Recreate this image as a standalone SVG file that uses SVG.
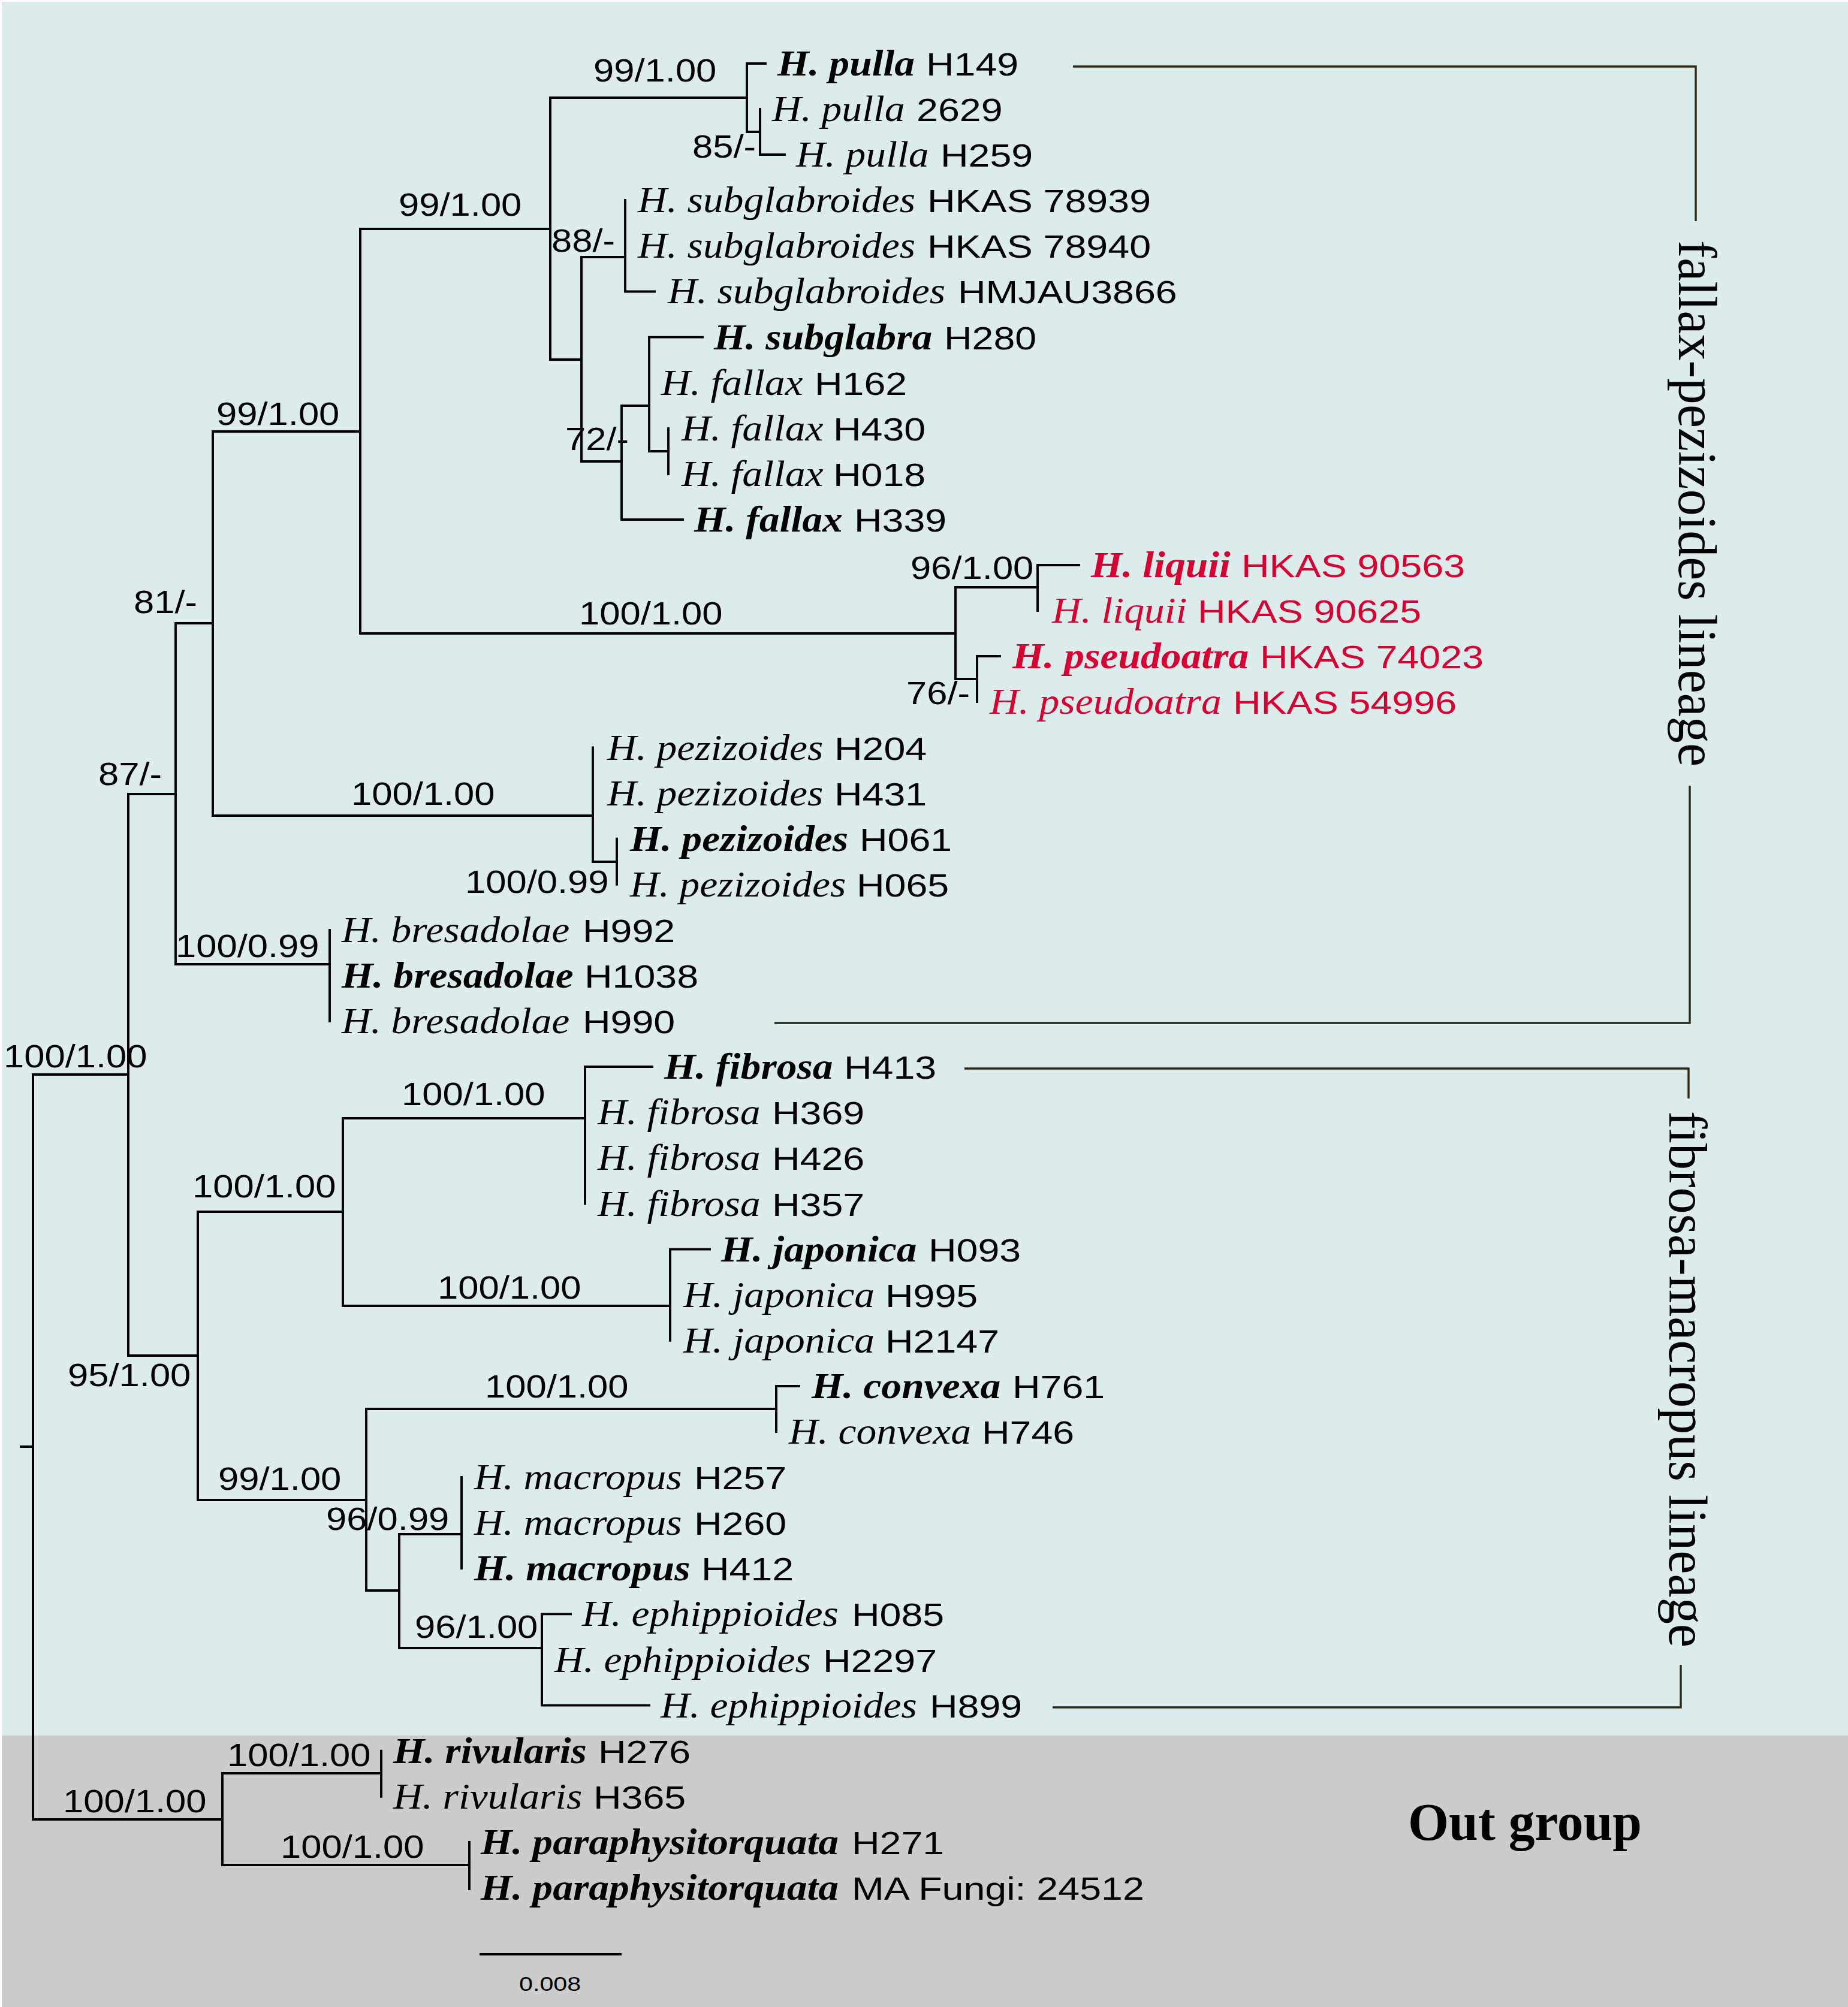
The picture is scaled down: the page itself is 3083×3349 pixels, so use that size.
<svg xmlns="http://www.w3.org/2000/svg" width="3083" height="3349" viewBox="0 0 3083 3349">
<style>
.tr{fill:none;stroke:#000;stroke-width:3.9;stroke-linecap:square}
.br{fill:none;stroke:#2e2614;stroke-width:3.4}
.sp{font-family:"Liberation Serif","Times New Roman",serif;font-style:italic;font-size:62px;fill:#000}
.b{font-weight:bold}
.cd{font-family:"Liberation Sans",Arial,sans-serif;font-size:54px;fill:#000}
.lb{font-family:"Liberation Sans",Arial,sans-serif;font-size:54px;fill:#000}
.sc{font-family:"Liberation Sans",Arial,sans-serif;font-size:33px;fill:#000}
.red{fill:#d80032}
.lin{font-family:"Liberation Serif","Times New Roman",serif;font-size:90px;fill:#000}
</style>
<rect x="0" y="0" width="3083" height="3349" fill="#ffffff"/>
<rect x="3" y="3" width="3080" height="2893" fill="#dbecea"/>
<rect x="3" y="2896" width="3080" height="453" fill="#cccccc"/>

<g id="connectors">
<path class="tr" d="M35 2414H55M55 1793V3036M55 1793H214M55 3036H371"/>
<path class="tr" d="M214 1325V2262M214 1325H293M214 2262H330"/>
<path class="tr" d="M293 1040V1609M293 1040H355M293 1609H550"/>
<path class="tr" d="M355 720V1361M355 720H601M355 1361H989"/>
<path class="tr" d="M601 382V1057M601 382H918M601 1057H1594"/>
<path class="tr" d="M918 163V600M918 163H1246M918 600H970"/>
<path class="tr" d="M1246 106V220M1246 106H1277M1246 220H1268"/>
<path class="tr" d="M1268 182V258M1268 258H1309"/>
<path class="tr" d="M970 429V770M970 429H1043M970 770H1037"/>
<path class="tr" d="M1043 334V486.5M1043 486.5H1092"/>
<path class="tr" d="M1037 677V867M1037 677H1083M1037 867H1139"/>
<path class="tr" d="M1083 562.6V753M1083 562.6H1172M1083 753H1115"/>
<path class="tr" d="M1115 714.8V790.9"/>
<path class="tr" d="M1594 980V1133M1594 980H1731M1594 1133H1630"/>
<path class="tr" d="M1731 943V1019M1731 943H1800"/>
<path class="tr" d="M1630 1095V1171M1630 1095H1668"/>
<path class="tr" d="M989 1247.5V1438M989 1438H1029"/>
<path class="tr" d="M1029 1399.7V1475.8"/>
<path class="tr" d="M550 1552V1704"/>
<path class="tr" d="M330 2022V2503M330 2022H572M330 2503H611"/>
<path class="tr" d="M572 1866V2179M572 1866H976M572 2179H1118"/>
<path class="tr" d="M976 1780V2008.5M976 1780H1088"/>
<path class="tr" d="M1118 2084.6V2236.8M1118 2084.6H1184"/>
<path class="tr" d="M611 2351V2654M611 2351H1295M611 2654H666"/>
<path class="tr" d="M1295 2313V2389M1295 2313H1333"/>
<path class="tr" d="M666 2560V2750M666 2560H770M666 2750H904"/>
<path class="tr" d="M770 2465V2617"/>
<path class="tr" d="M904 2693.4V2845.6M904 2693.4H952M904 2845.6H1083"/>
<path class="tr" d="M371 2959V3112M371 2959H636M371 3112H783"/>
<path class="tr" d="M636 2921.7V2997.8"/>
<path class="tr" d="M783 3073.9V3152"/>
<path class="br" d="M1790 111H2829V369M2819 1311V1707H1292"/>
<path class="br" d="M1609 1783H2817V1833M2804 2778V2849H1756"/>
<path class="tr" d="M802 3261H1035"/>
</g>

<g id="support-labels">
<text class="lb" transform="translate(990 136) scale(1.14 1)">99/1.00</text>
<text class="lb" transform="translate(1155 263) scale(1.14 1)">85/-</text>
<text class="lb" transform="translate(665 360) scale(1.14 1)">99/1.00</text>
<text class="lb" transform="translate(920 420) scale(1.14 1)">88/-</text>
<text class="lb" transform="translate(361 709) scale(1.14 1)">99/1.00</text>
<text class="lb" transform="translate(943 751) scale(1.14 1)">72/-</text>
<text class="lb" transform="translate(1519 966) scale(1.14 1)">96/1.00</text>
<text class="lb" transform="translate(223 1023) scale(1.14 1)">81/-</text>
<text class="lb" transform="translate(966 1042) scale(1.14 1)">100/1.00</text>
<text class="lb" transform="translate(1512 1175) scale(1.14 1)">76/-</text>
<text class="lb" transform="translate(164 1310) scale(1.14 1)">87/-</text>
<text class="lb" transform="translate(586 1343) scale(1.14 1)">100/1.00</text>
<text class="lb" transform="translate(776 1490) scale(1.14 1)">100/0.99</text>
<text class="lb" transform="translate(293 1597) scale(1.14 1)">100/0.99</text>
<text class="lb" transform="translate(6 1781) scale(1.14 1)">100/1.00</text>
<text class="lb" transform="translate(670 1844) scale(1.14 1)">100/1.00</text>
<text class="lb" transform="translate(321 1998) scale(1.14 1)">100/1.00</text>
<text class="lb" transform="translate(730 2167) scale(1.14 1)">100/1.00</text>
<text class="lb" transform="translate(113 2313) scale(1.14 1)">95/1.00</text>
<text class="lb" transform="translate(809 2332) scale(1.14 1)">100/1.00</text>
<text class="lb" transform="translate(364 2486) scale(1.14 1)">99/1.00</text>
<text class="lb" transform="translate(544 2553) scale(1.14 1)">96/0.99</text>
<text class="lb" transform="translate(692 2733) scale(1.14 1)">96/1.00</text>
<text class="lb" transform="translate(379 2947) scale(1.14 1)">100/1.00</text>
<text class="lb" transform="translate(105 3024) scale(1.14 1)">100/1.00</text>
<text class="lb" transform="translate(468 3100) scale(1.14 1)">100/1.00</text>
</g>

<g id="leaf-01"><text class="sp b" transform="translate(1297 126) scale(1.09 1)">H. pulla</text><text class="cd" transform="translate(1545 126) scale(1.195 1)">H149</text></g>
<g id="leaf-02"><text class="sp" transform="translate(1288 202) scale(1.09 1)">H. pulla</text><text class="cd" transform="translate(1529 202) scale(1.195 1)">2629</text></g>
<g id="leaf-03"><text class="sp" transform="translate(1328 278) scale(1.09 1)">H. pulla</text><text class="cd" transform="translate(1569 278) scale(1.195 1)">H259</text></g>
<g id="leaf-04"><text class="sp" transform="translate(1064 354) scale(1.09 1)">H. subglabroides</text><text class="cd" transform="translate(1547 354) scale(1.195 1)">HKAS 78939</text></g>
<g id="leaf-05"><text class="sp" transform="translate(1064 430) scale(1.09 1)">H. subglabroides</text><text class="cd" transform="translate(1547 430) scale(1.195 1)">HKAS 78940</text></g>
<g id="leaf-06"><text class="sp" transform="translate(1114 506) scale(1.09 1)">H. subglabroides</text><text class="cd" transform="translate(1598 506) scale(1.195 1)">HMJAU3866</text></g>
<g id="leaf-07"><text class="sp b" transform="translate(1191 583) scale(1.09 1)">H. subglabra</text><text class="cd" transform="translate(1575 583) scale(1.195 1)">H280</text></g>
<g id="leaf-08"><text class="sp" transform="translate(1103 659) scale(1.09 1)">H. fallax</text><text class="cd" transform="translate(1359 659) scale(1.195 1)">H162</text></g>
<g id="leaf-09"><text class="sp" transform="translate(1137 735) scale(1.09 1)">H. fallax</text><text class="cd" transform="translate(1390 735) scale(1.195 1)">H430</text></g>
<g id="leaf-10"><text class="sp" transform="translate(1137 811) scale(1.09 1)">H. fallax</text><text class="cd" transform="translate(1390 811) scale(1.195 1)">H018</text></g>
<g id="leaf-11"><text class="sp b" transform="translate(1158 887) scale(1.09 1)">H. fallax</text><text class="cd" transform="translate(1425 887) scale(1.195 1)">H339</text></g>
<g id="leaf-12"><text class="sp b red" transform="translate(1820 963) scale(1.09 1)">H. liquii</text><text class="cd red" transform="translate(2071 963) scale(1.195 1)">HKAS 90563</text></g>
<g id="leaf-13"><text class="sp red" transform="translate(1755 1039) scale(1.09 1)">H. liquii</text><text class="cd red" transform="translate(1998 1039) scale(1.195 1)">HKAS 90625</text></g>
<g id="leaf-14"><text class="sp b red" transform="translate(1689 1115) scale(1.09 1)">H. pseudoatra</text><text class="cd red" transform="translate(2102 1115) scale(1.195 1)">HKAS 74023</text></g>
<g id="leaf-15"><text class="sp red" transform="translate(1651 1191) scale(1.09 1)">H. pseudoatra</text><text class="cd red" transform="translate(2057 1191) scale(1.195 1)">HKAS 54996</text></g>
<g id="leaf-16"><text class="sp" transform="translate(1013 1268) scale(1.09 1)">H. pezizoides</text><text class="cd" transform="translate(1392 1268) scale(1.195 1)">H204</text></g>
<g id="leaf-17"><text class="sp" transform="translate(1013 1344) scale(1.09 1)">H. pezizoides</text><text class="cd" transform="translate(1392 1344) scale(1.195 1)">H431</text></g>
<g id="leaf-18"><text class="sp b" transform="translate(1051 1420) scale(1.09 1)">H. pezizoides</text><text class="cd" transform="translate(1434 1420) scale(1.195 1)">H061</text></g>
<g id="leaf-19"><text class="sp" transform="translate(1051 1496) scale(1.09 1)">H. pezizoides</text><text class="cd" transform="translate(1429 1496) scale(1.195 1)">H065</text></g>
<g id="leaf-20"><text class="sp" transform="translate(570 1572) scale(1.09 1)">H. bresadolae</text><text class="cd" transform="translate(972 1572) scale(1.195 1)">H992</text></g>
<g id="leaf-21"><text class="sp b" transform="translate(570 1648) scale(1.09 1)">H. bresadolae</text><text class="cd" transform="translate(975 1648) scale(1.195 1)">H1038</text></g>
<g id="leaf-22"><text class="sp" transform="translate(570 1724) scale(1.09 1)">H. bresadolae</text><text class="cd" transform="translate(972 1724) scale(1.195 1)">H990</text></g>
<g id="leaf-23"><text class="sp b" transform="translate(1108 1800) scale(1.09 1)">H. fibrosa</text><text class="cd" transform="translate(1408 1800) scale(1.195 1)">H413</text></g>
<g id="leaf-24"><text class="sp" transform="translate(997 1876) scale(1.09 1)">H. fibrosa</text><text class="cd" transform="translate(1288 1876) scale(1.195 1)">H369</text></g>
<g id="leaf-25"><text class="sp" transform="translate(997 1952) scale(1.09 1)">H. fibrosa</text><text class="cd" transform="translate(1288 1952) scale(1.195 1)">H426</text></g>
<g id="leaf-26"><text class="sp" transform="translate(997 2029) scale(1.09 1)">H. fibrosa</text><text class="cd" transform="translate(1288 2029) scale(1.195 1)">H357</text></g>
<g id="leaf-27"><text class="sp b" transform="translate(1203 2105) scale(1.09 1)">H. japonica</text><text class="cd" transform="translate(1549 2105) scale(1.195 1)">H093</text></g>
<g id="leaf-28"><text class="sp" transform="translate(1140 2181) scale(1.09 1)">H. japonica</text><text class="cd" transform="translate(1477 2181) scale(1.195 1)">H995</text></g>
<g id="leaf-29"><text class="sp" transform="translate(1140 2257) scale(1.09 1)">H. japonica</text><text class="cd" transform="translate(1477 2257) scale(1.195 1)">H2147</text></g>
<g id="leaf-30"><text class="sp b" transform="translate(1354 2333) scale(1.09 1)">H. convexa</text><text class="cd" transform="translate(1689 2333) scale(1.195 1)">H761</text></g>
<g id="leaf-31"><text class="sp" transform="translate(1316 2409) scale(1.09 1)">H. convexa</text><text class="cd" transform="translate(1638 2409) scale(1.195 1)">H746</text></g>
<g id="leaf-32"><text class="sp" transform="translate(791 2485) scale(1.09 1)">H. macropus</text><text class="cd" transform="translate(1158 2485) scale(1.195 1)">H257</text></g>
<g id="leaf-33"><text class="sp" transform="translate(791 2561) scale(1.09 1)">H. macropus</text><text class="cd" transform="translate(1158 2561) scale(1.195 1)">H260</text></g>
<g id="leaf-34"><text class="sp b" transform="translate(791 2637) scale(1.09 1)">H. macropus</text><text class="cd" transform="translate(1170 2637) scale(1.195 1)">H412</text></g>
<g id="leaf-35"><text class="sp" transform="translate(971 2713) scale(1.09 1)">H. ephippioides</text><text class="cd" transform="translate(1421 2713) scale(1.195 1)">H085</text></g>
<g id="leaf-36"><text class="sp" transform="translate(925 2790) scale(1.09 1)">H. ephippioides</text><text class="cd" transform="translate(1373 2790) scale(1.195 1)">H2297</text></g>
<g id="leaf-37"><text class="sp" transform="translate(1102 2866) scale(1.09 1)">H. ephippioides</text><text class="cd" transform="translate(1551 2866) scale(1.195 1)">H899</text></g>
<g id="leaf-38"><text class="sp b" transform="translate(656 2942) scale(1.09 1)">H. rivularis</text><text class="cd" transform="translate(998 2942) scale(1.195 1)">H276</text></g>
<g id="leaf-39"><text class="sp" transform="translate(656 3018) scale(1.09 1)">H. rivularis</text><text class="cd" transform="translate(990 3018) scale(1.195 1)">H365</text></g>
<g id="leaf-40"><text class="sp b" transform="translate(802 3094) scale(1.09 1)">H. paraphysitorquata</text><text class="cd" transform="translate(1421 3094) scale(1.195 1)">H271</text></g>
<g id="leaf-41"><text class="sp b" transform="translate(802 3170) scale(1.09 1)">H. paraphysitorquata</text><text class="cd" transform="translate(1421 3170) scale(1.195 1)">MA Fungi: 24512</text></g>

<g id="lineage-fallax-pezizoides"><text class="lin" transform="translate(2801 401) rotate(90)" textLength="878" lengthAdjust="spacingAndGlyphs">fallax-pezizoides lineage</text></g>
<g id="lineage-fibrosa-macropus"><text class="lin" transform="translate(2785 1854) rotate(90)" textLength="895" lengthAdjust="spacingAndGlyphs">fibrosa-macropus lineage</text></g>
<g id="outgroup-label"><text x="2349" y="3070" font-family="'Liberation Serif','Times New Roman',serif" font-weight="bold" font-size="88" textLength="390" lengthAdjust="spacingAndGlyphs">Out group</text></g>
<g id="scale-label"><text class="sc" transform="translate(866 3322) scale(1.25 1)">0.008</text></g>
</svg>
